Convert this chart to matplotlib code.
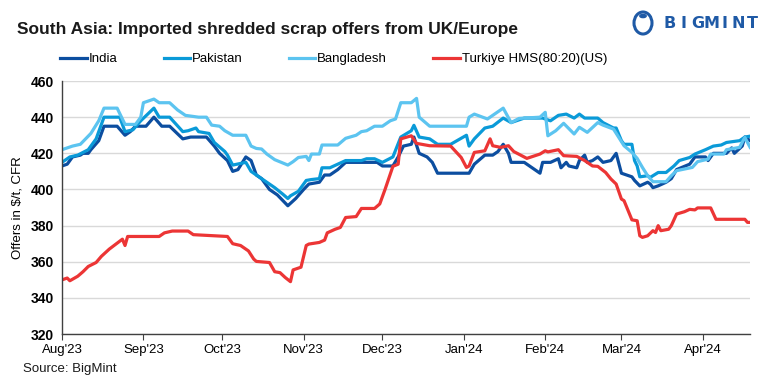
import numpy as np
import pandas as pd
import matplotlib
matplotlib.use("Agg")
import matplotlib.pyplot as plt
import matplotlib.dates as mdates
from matplotlib.patches import Ellipse, Circle

# South Asia: imported shredded scrap offers (USD/t CFR)
start = pd.Timestamp("2023-08-01")  # day 0 of every "days" list below

india_days = [0, 2, 4, 7, 8, 10, 11, 14, 16, 21, 24, 26, 28, 32, 35, 38, 41, 46, 49, 50, 53, 55,
              58, 60, 63, 65, 67, 70, 72, 74, 76, 79, 82, 86, 89, 92, 94, 98, 100, 102, 105, 108,
              112, 116, 120, 122, 126, 128, 130, 133, 134, 136, 139, 141, 143, 155, 157, 161, 164,
              166, 168, 170, 171, 176, 180, 182, 183, 186, 189, 190, 192, 193, 196, 197, 199, 200,
              202, 204, 206, 209, 211, 213, 217, 218, 220, 223, 224, 225, 227, 230, 232, 234, 239,
              241, 245, 246, 248, 253, 255, 256, 259, 260, 262]
india = [413, 414, 418, 419, 420, 420, 422, 427, 435, 435, 430, 432, 435, 435, 440, 435, 435, 428,
         429, 429, 429, 429, 424, 420, 416, 410, 411, 418, 416, 408, 406, 400, 397, 391, 395, 400,
         403, 404, 408, 408, 411, 415, 415, 415, 415, 413, 413, 418, 424, 425, 429, 420, 418, 415,
         409, 409, 414, 419, 419, 421, 425, 420, 415, 415, 411, 409, 415, 415, 417, 412, 415, 413,
         412, 416, 419, 415, 416, 418, 415, 416, 420, 409, 407, 405, 402, 404, 403, 401, 402, 404,
         406, 411, 414, 418, 418, 416, 420, 420, 423, 420, 424, 429, 427]

pakistan_days = [0, 3, 6, 8, 10, 13, 16, 22, 24, 27, 30, 35, 37, 41, 46, 48, 51, 52, 56, 58, 62,
                 63, 65, 70, 72, 74, 77, 81, 84, 86, 87, 90, 93, 95, 98, 99, 102, 105, 108, 114,
                 116, 119, 122, 126, 129, 133, 134, 136, 140, 143, 148, 154, 155, 157, 161, 164,
                 168, 171, 176, 183, 186, 189, 192, 195, 197, 199, 204, 206, 210, 211, 213, 214,
                 217, 218, 219, 220, 223, 224, 225, 227, 230, 233, 235, 239, 241, 245, 248, 251,
                 253, 258, 260, 262]
pakistan = [415, 418, 419, 420.5, 422, 428, 440, 440, 432, 433, 438, 445, 440, 440, 432, 432.5,
            434, 432, 431, 426, 421, 419, 413.5, 415, 410, 408, 405, 401, 397.5, 395, 396.5, 399,
            405, 405.5, 406, 412, 412, 414, 416, 416, 417, 417, 415, 418, 429, 432.5, 435.5, 429,
            428, 425, 425, 430, 424, 428, 434, 435, 439.5, 437, 439.5, 439.5, 438, 441, 441.7,
            439.5, 441.7, 439.5, 439.5, 437, 434, 434, 427, 425, 425, 416, 413, 407, 407.6, 406.7,
            407.6, 409.4, 409.4, 413, 416, 417.7, 419.6, 422, 424, 424.6, 426, 427, 429, 429.5]

bangladesh_days = [0, 4, 7, 9, 11, 14, 16, 21, 24, 28, 30, 31, 35, 37, 41, 44, 47, 52, 55, 57,
                   60, 62, 65, 70, 72, 74, 76, 78, 81, 86, 88, 90, 93, 94, 95, 98, 99, 105, 108,
                   112, 114, 116, 119, 122, 125, 127, 129, 133, 135, 136, 140, 154, 155, 157, 162,
                   168, 171, 174, 182, 184, 185, 188, 191, 195, 197, 200, 204, 206, 210, 212, 214,
                   217, 219, 221, 223, 225, 230, 232, 234, 237, 240, 242, 246, 247, 252, 253, 258,
                   260, 262]
bangladesh = [422, 424, 425, 428, 431, 438, 445, 445, 436, 436, 440, 448, 450, 448, 448, 444, 441,
              440, 440, 435.6, 435, 432.5, 430, 430, 424, 422.7, 422.4, 419.6, 416.5, 413.5, 415.4,
              417.7, 418.3, 416, 419.6, 419.6, 424.6, 424.6, 428.3, 430, 432, 432.5, 435, 435, 438,
              439, 448, 448, 450.4, 440, 435, 435, 440, 441.7, 439, 445, 437, 439.3, 440, 442.7,
              429.7, 432.5, 436.6, 430.7, 434.4, 431.6, 437, 435.6, 433.4, 428.8, 424.2, 420.5,
              417.2, 412.2, 407.6, 404.3, 404.3, 407.6, 410.4, 411.3, 412.2, 415.4, 416.8, 419.6,
              419.6, 422, 423.3, 428.8, 423.3]

turkiye_days = [0, 2, 3, 6, 8, 10, 13, 15, 18, 21, 23, 24, 25, 37, 39, 42, 48, 50, 63, 65, 68,
                71, 73, 74, 79, 81, 83, 85, 87, 88, 91, 93, 94, 98, 100, 101, 104, 106, 108, 112,
                114, 119, 121, 123, 126, 128, 129, 133, 135, 140, 148, 152, 154, 155, 157, 161,
                163, 164, 167, 170, 172, 177, 182, 184, 185, 189, 191, 196, 199, 202, 204, 207,
                209, 211, 213, 214, 217, 219, 220, 221, 223, 225, 226, 227, 228, 231, 232, 234,
                237, 239, 241, 242, 247, 249, 260, 261, 262]
turkiye = [350, 351, 349.5, 352, 354.5, 357.4, 359.6, 363, 367, 370.3, 372.5, 369, 374, 374, 376,
           377, 377, 375, 374, 370, 369, 366, 361.5, 360.2, 359.6, 354.5, 354, 351.3, 349, 355.5,
           357, 369, 369.8, 370.7, 372, 376, 378, 379, 384.5, 385, 389.5, 389.5, 392, 400, 412.8,
           414, 428, 429.7, 425.5, 424.2, 424, 417.7, 412.2, 413, 420.5, 421.4, 428, 424.2, 423.3,
           424.2, 421, 417.2, 419.6, 421.4, 420.8, 422, 418.7, 418.3, 416, 413, 412.8, 409.4,
           405.8, 403, 394.7, 393.8, 383.2, 382.7, 374.4, 373.5, 374.4, 377.2, 376.2, 380, 377.2,
           378, 380, 386.4, 387.7, 389, 388.7, 389.8, 389.8, 383.5, 383.5, 381.8, 381.8]

series = [
    ("India", india_days, india, "#0c4ea0"),
    ("Pakistan", pakistan_days, pakistan, "#0a9ad8"),
    ("Bangladesh", bangladesh_days, bangladesh, "#5cc4f0"),
    ("Turkiye HMS(80:20)(US)", turkiye_days, turkiye, "#ec3535"),
]

plt.rcParams["font.family"] = ["Liberation Sans", "DejaVu Sans"]

fig = plt.figure(figsize=(7.68, 3.84), dpi=100)
ax = fig.add_axes([0.0807, 0.130, 0.896, 0.659])

for name, days, vals, col in series:
    x = start + pd.to_timedelta(days, unit="D")
    ax.plot(x, vals, color=col, lw=2.3, label=name, solid_joinstyle="round")

ax.set_ylim(320, 460)
ax.set_yticks(np.arange(320, 461, 20))
ax.set_xlim(start, start + pd.Timedelta(days=262))
ax.xaxis.set_major_locator(mdates.MonthLocator())
ax.xaxis.set_major_formatter(mdates.DateFormatter("%b'%y"))

ax.grid(axis="y", color="#d9d9d9", lw=1)
ax.set_axisbelow(True)
for s in ["top", "right"]:
    ax.spines[s].set_visible(False)
for s in ["left", "bottom"]:
    ax.spines[s].set_color("#404040")
    ax.spines[s].set_linewidth(1)
ax.tick_params(axis="y", length=0, pad=6, labelsize=10)
ax.tick_params(axis="x", length=4, color="#404040", pad=3, labelsize=9.5)
for lab in ax.get_yticklabels():
    lab.set_fontweight("bold")
ax.set_ylabel("Offers in $/t, CFR", fontsize=9.5, labelpad=5)

fig.text(0.022, 0.922, "South Asia: Imported shredded scrap offers from UK/Europe",
         fontsize=12.5, fontweight="bold", va="center", color="#1a1a1a")
fig.text(0.030, 0.040, "Source: BigMint", fontsize=9.5, va="center", color="#1a1a1a")

fig.legend(loc="center left", bbox_to_anchor=(0.0785, 0.846), ncol=4, frameon=False,
           fontsize=9.5, handlelength=2.0, handletextpad=0.15, columnspacing=3.5,
           borderaxespad=0, borderpad=0)

# BigMint logo (top right)
logo_col = "#1f5aa6"
fig.patches.append(Ellipse((643 / 768, 1 - 23 / 384), 18 / 768, 22 / 384, fill=False,
                           ec=logo_col, lw=2.2, transform=fig.transFigure))
fig.patches.append(Circle((643 / 768, 1 - 16 / 384), 3.2 / 768, color=logo_col,
                          transform=fig.transFigure))
for i, ch in enumerate("BIGMINT"):
    fig.text((670 + i * 13.7) / 768, 1 - 24 / 384, ch, fontsize=11.5, fontweight="bold",
             color=logo_col, va="center", ha="center", family="DejaVu Sans")

fig.savefig("out.png", dpi=100)
